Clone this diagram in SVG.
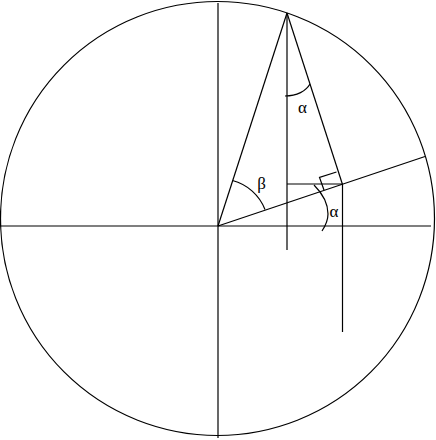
<svg xmlns="http://www.w3.org/2000/svg" width="436" height="440" viewBox="0 0 436 440">
<style>
.l{stroke:#000;stroke-width:1.2;fill:none}
.t{font-family:"Liberation Serif","DejaVu Serif",serif;font-size:17px;fill:#000;text-anchor:middle}
</style>
<rect width="436" height="440" fill="#fff"/>
<g id="circle"><circle class="l" cx="217.5" cy="218.5" r="217"/></g>
<g id="connectors">
<line class="l" x1="0" y1="226" x2="431" y2="226"/>
<line class="l" x1="218" y1="3" x2="218" y2="438"/>
<line class="l" x1="218" y1="226" x2="287" y2="13"/>
<line class="l" x1="287" y1="13" x2="342.5" y2="184.5"/>
<line class="l" x1="287" y1="13" x2="287" y2="250"/>
<line class="l" x1="218" y1="226" x2="425" y2="156.5"/>
<line class="l" x1="287" y1="184" x2="342.5" y2="184"/>
<line class="l" x1="342.5" y1="184" x2="342.5" y2="332"/>
<polyline class="l" points="324,190 319.5,177.5 336.5,172"/>
<path class="l" d="M285,96 C297,96 306,91 310,84"/>
<path class="l" d="M232.5,180.5 A48,48 0 0 1 265,209.5"/>
<path class="l" d="M314,185 C322,193 328,203 328,214 C328,220 326,225 322,231"/>
</g>
<g id="labels">
<text class="t" x="302.5" y="113">α</text>
<text class="t" x="261.5" y="189">β</text>
<text class="t" x="334" y="217">α</text>
</g>
</svg>
